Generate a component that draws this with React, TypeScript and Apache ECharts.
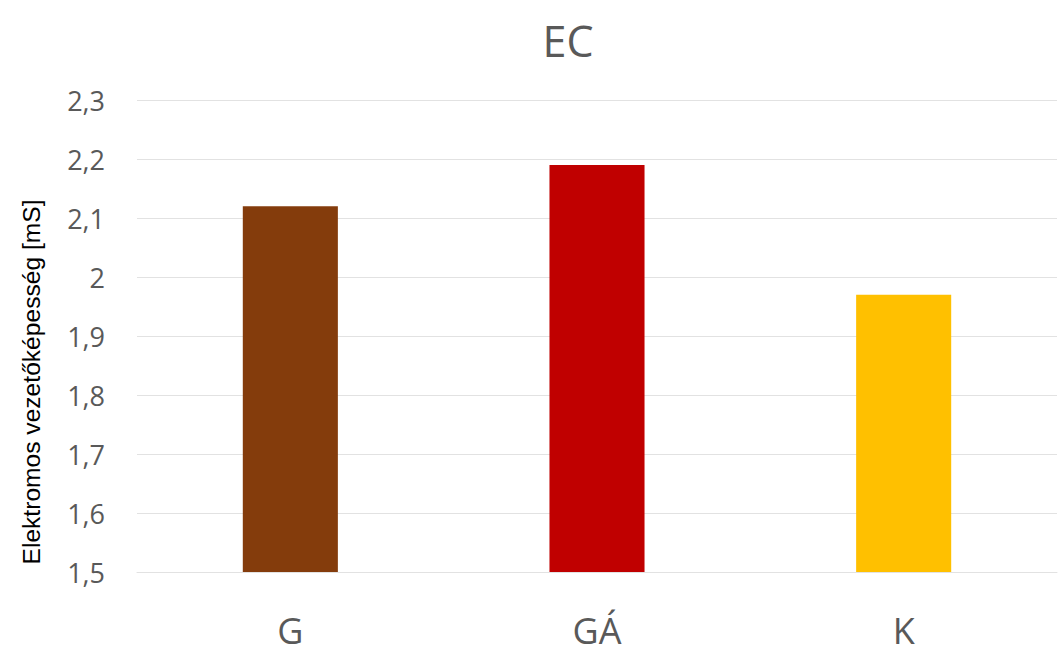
import React, { useEffect, useRef } from "react";
import * as echarts from "echarts";

// Measured electrical conductivity per sample group
const categories = ["G", "GÁ", "K"];
const conductivity = [2.12, 2.19, 1.97];
const barColors = ["#843C0C", "#C00000", "#FFC000"];
const yTicks = { min: 1.5, max: 2.3, interval: 0.1 };
const chartTitle = "EC";
const yAxisTitle = "Elektromos vezetőképesség [mS]";

const tickColor = "#595959";
const gridColor = "#E2E2E2";

export default function App() {
  const ref = useRef<HTMLDivElement>(null);

  useEffect(() => {
    if (!ref.current) return;
    const chart = echarts.init(ref.current, undefined, { renderer: "svg" });

    chart.setOption({
      animation: false,
      backgroundColor: "#ffffff",
      title: {
        text: chartTitle,
        left: 563,
        top: 14,
        textAlign: "center",
        textStyle: {
          fontFamily: "Open Sans",
          fontSize: 43,
          fontWeight: "normal",
          color: tickColor,
        },
      },
      grid: { left: 137, right: 1, top: 100, bottom: 85 },
      xAxis: {
        type: "category",
        data: categories,
        axisLine: { show: true, lineStyle: { color: gridColor, width: 1 } },
        axisTick: { show: false },
        axisLabel: {
          margin: 40,
          fontFamily: "Open Sans",
          fontSize: 36,
          color: tickColor,
        },
      },
      yAxis: {
        type: "value",
        min: yTicks.min,
        max: yTicks.max,
        interval: yTicks.interval,
        axisLine: { show: false },
        axisTick: { show: false },
        splitLine: { lineStyle: { color: gridColor, width: 1 } },
        axisLabel: {
          margin: 32,
          fontFamily: "Open Sans",
          fontSize: 27,
          color: tickColor,
          formatter: (v: number) => String(Math.round(v * 10) / 10).replace(".", ","),
        },
      },
      series: [
        {
          type: "bar",
          barWidth: "31%",
          data: conductivity.map((v, i) => ({
            value: v,
            itemStyle: { color: barColors[i] },
          })),
        },
      ],
      graphic: [
        {
          type: "text",
          x: 31,
          y: 382,
          rotation: Math.PI / 2,
          style: {
            text: yAxisTitle,
            fontFamily: "Liberation Sans",
            fontSize: 24.6,
            fill: "#000000",
            align: "center",
            verticalAlign: "middle",
          },
        },
      ],
    });

    return () => chart.dispose();
  }, []);

  return (
    <div
      ref={ref}
      style={{ position: "absolute", left: 0, top: 0, width: 1058, height: 657 }}
    />
  );
}
